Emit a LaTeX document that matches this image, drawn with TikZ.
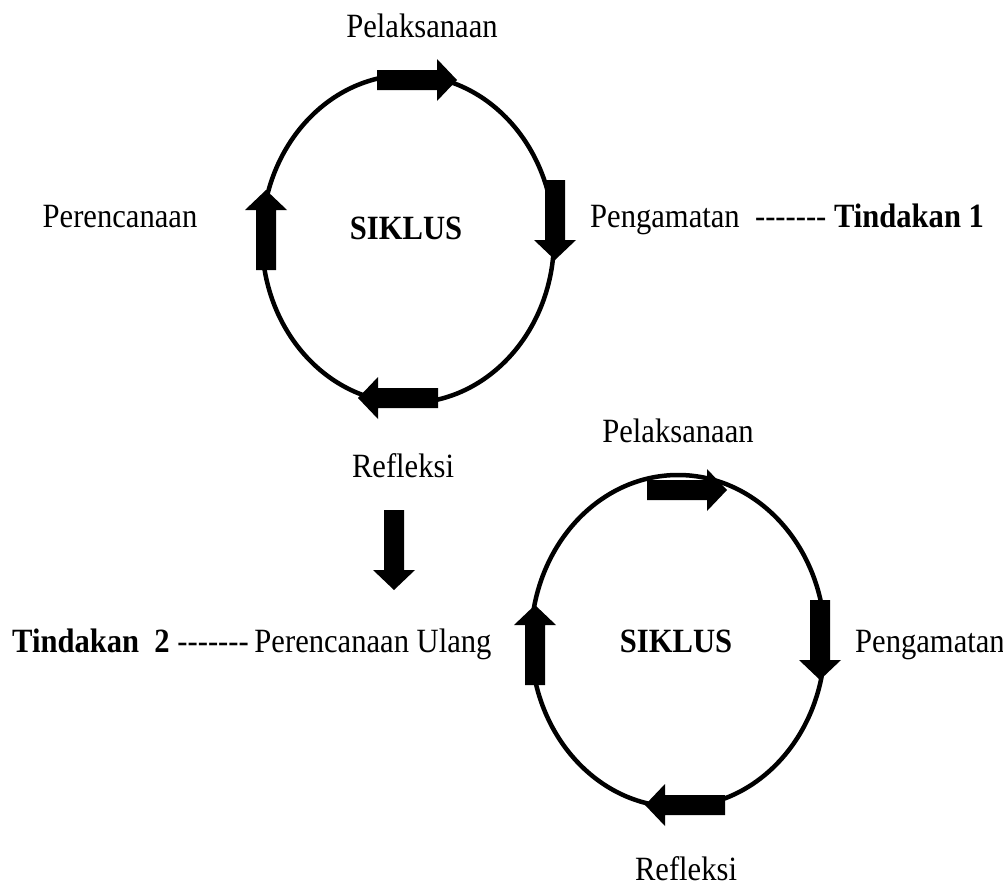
\documentclass[tikz,border=0pt]{standalone}
\usepackage{fontspec}
\setmainfont[FakeStretch=0.9]{Liberation Serif}
\newcommand{\dashrow}{-{}-{}-{}-{}-{}-{}-}

\tikzset{
  blockarrow/.pic={
    \fill (0,-10) -- (60,-10) -- (60,-21) -- (80,0) -- (60,21) -- (60,10) -- (0,10) -- cycle;
  },
  stagetext/.style={font=\fontsize{34}{40}\selectfont, inner sep=0pt, anchor=base},
  ring/.style={line width=4.5pt},
}

\begin{document}
\begin{tikzpicture}[x=1pt,y=-1pt]
  \useasboundingbox (0,0) rectangle (1003,886);

  % first cycle
  \draw[ring] (408,239) ellipse [x radius=146pt, y radius=164pt];
  \pic at (377,80) {blockarrow};
  \pic[rotate=-90] at (555,180) {blockarrow};
  \pic[rotate=180] at (438,398) {blockarrow};
  \pic[rotate=90] at (266,270) {blockarrow};

  \node[stagetext, font=\fontsize{34}{40}\selectfont\bfseries] (cycle1) at (406,239) {SIKLUS};
  \node[stagetext] (act1) at (422,37) {Pelaksanaan};
  \node[stagetext] (plan1) at (120,227) {Perencanaan};
  \node[stagetext, anchor=base west] (obs1) at (590,227) {Pengamatan\ \ \dashrow\ \textbf{Tindakan 1}};
  \node[stagetext] (refl1) at (403,477) {Refleksi};

  % step to the second cycle
  \pic[rotate=-90] at (394,510) {blockarrow};

  % second cycle
  \draw[ring] (678,641) ellipse [x radius=147pt, y radius=166pt];
  \pic at (647,490) {blockarrow};
  \pic[rotate=-90] at (820,600) {blockarrow};
  \pic[rotate=180] at (725,805) {blockarrow};
  \pic[rotate=90] at (535,685) {blockarrow};

  \node[stagetext, font=\fontsize{34}{40}\selectfont\bfseries] (cycle2) at (676,652) {SIKLUS};
  \node[stagetext] (act2) at (678,442) {Pelaksanaan};
  \node[stagetext, anchor=base west] (obs2) at (855,652) {Pengamatan};
  \node[stagetext, anchor=base west] (plan2) at (12,652) {\textbf{Tindakan\ \ 2} \dashrow\,Perencanaan Ulang};
  \node[stagetext] (refl2) at (686,880) {Refleksi};
\end{tikzpicture}
\end{document}
